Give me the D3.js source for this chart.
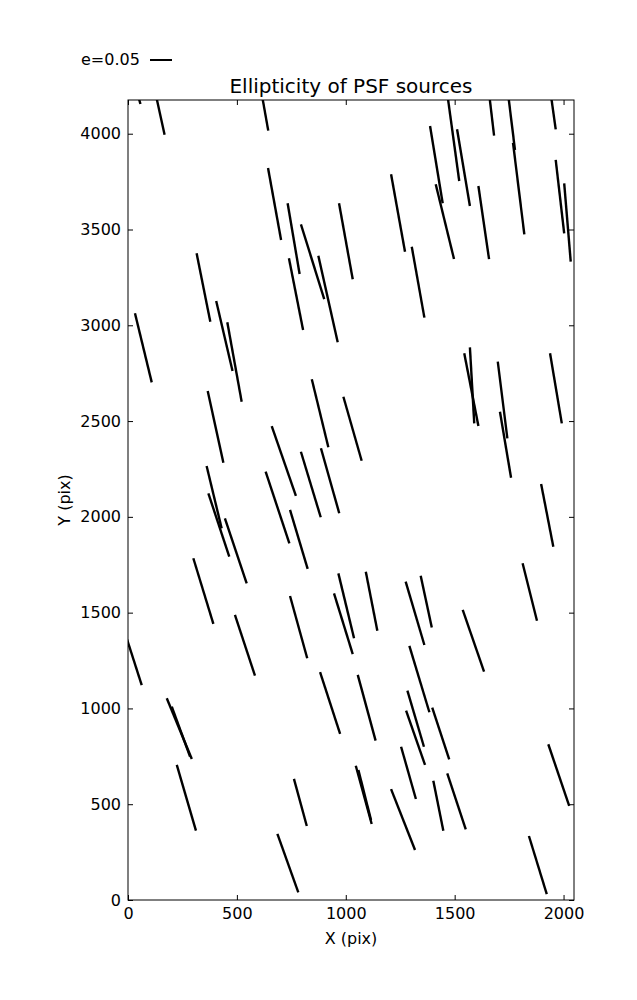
<!DOCTYPE html>
<html><head><meta charset="utf-8">
<script src="https://cdn.jsdelivr.net/npm/d3@7"></script>
<style>
body{margin:0;background:#fff;}
text{font-family:"DejaVu Sans",sans-serif;fill:#000;}
</style></head>
<body>
<svg id="chart" width="637" height="1000"></svg>
<script>
// Segment endpoints (data units: pixels on detector)
const X1 = [37,125,615,643,315,32,405,456,733,794,739,874,969,1208,1303,1465,1387,1413,1511,1659,1746,1768,1609,1940,1964,2003,1544,1570,1698,1708,1938,1897,1812,1344,1537,844,989,660,794,886,632,744,744,946,966,1092,1275,366,361,369,445,300,491,-14,178,201,224,686,882,1055,1292,1283,1277,1254,1208,1046,1058,762,1397,1402,1466,1930,1841];
const Y1 = [4239,4218,4202,3821,3376,3063,3127,3016,3637,3527,3350,3363,3637,3788,3410,4218,4040,3736,4023,4202,4202,3952,3727,4218,3863,3741,2854,2885,2810,2549,2854,2172,1758,1693,1514,2718,2627,2474,2340,2358,2236,2036,1587,1601,1705,1714,1662,2657,2265,2123,1992,1784,1488,1394,1053,1009,705,345,1189,1175,1327,1093,988,800,579,701,679,632,1004,623,661,813,334];
const X2 = [57,168,644,703,378,109,480,522,788,901,804,963,1032,1272,1361,1521,1445,1497,1570,1681,1777,1820,1658,1964,2003,2033,1609,1590,1742,1759,1992,1953,1878,1395,1635,920,1073,771,885,970,741,825,823,1032,1038,1145,1361,438,430,465,545,392,583,63,293,285,312,782,974,1137,1384,1359,1364,1322,1318,1119,1116,821,1475,1448,1551,2026,1923];
const Y2 = [4155,3995,4016,3445,3019,2702,2761,2601,3268,3137,2975,2911,3240,3384,3040,3753,3637,3346,3623,3990,3915,3475,3345,4023,3480,3332,2474,2488,2410,2204,2488,1844,1458,1423,1192,2363,2293,2109,1998,2019,1862,1728,1262,1284,1366,1406,1331,2283,1940,1792,1653,1441,1171,1122,736,748,362,40,867,832,980,800,705,527,261,397,418,386,734,362,369,491,31];
const xTicks = [0,500,1000,1500,2000];
const yTicks = [0,500,1000,1500,2000,2500,3000,3500,4000];
const xDomain = [0,2048];
const yDomain = [0,4176];
const titleText = "Ellipticity of PSF sources";
const xLabel = "X (pix)";
const yLabel = "Y (pix)";
const keyLabel = "e=0.05";

const svg = d3.select("#chart");
const m = {left:128, top:100, width:446, height:800};
const x = d3.scaleLinear().domain(xDomain).range([0, m.width]);
const y = d3.scaleLinear().domain(yDomain).range([m.height, 0]);

const g = svg.append("g").attr("transform",`translate(${m.left},${m.top})`);

g.append("clipPath").attr("id","clip").append("rect")
  .attr("width",m.width).attr("height",m.height);

const segs = X1.map((d,i)=>({x1:d,y1:Y1[i],x2:X2[i],y2:Y2[i]}));
g.append("g").attr("clip-path","url(#clip)")
  .selectAll("line").data(segs).join("line")
  .attr("x1",d=>x(d.x1)).attr("y1",d=>y(d.y1))
  .attr("x2",d=>x(d.x2)).attr("y2",d=>y(d.y2))
  .attr("stroke","#000").attr("stroke-width",2.4);

const tl = 5;
// axes
const axB = d3.axisBottom(x).tickValues(xTicks).tickSize(-tl).tickPadding(8).tickFormat(d3.format("d"));
const axT = d3.axisTop(x).tickValues(xTicks).tickSize(-tl).tickFormat("");
const axL = d3.axisLeft(y).tickValues(yTicks).tickSize(-tl).tickPadding(7).tickFormat(d3.format("d"));
const axR = d3.axisRight(y).tickValues(yTicks).tickSize(-tl).tickFormat("");
function style(sel){
  sel.select(".domain").remove();
  sel.selectAll(".tick line").attr("stroke","#000").attr("stroke-width",1);
  sel.selectAll(".tick text").style("font-size","16px").style("font-family","DejaVu Sans").attr("fill","#000");
}
g.append("g").attr("transform",`translate(0,${m.height})`).call(axB).call(style);
g.append("g").call(axT).call(style);
g.append("g").call(axL).call(style);
g.append("g").attr("transform",`translate(${m.width},0)`).call(axR).call(style);

g.append("rect").attr("width",m.width).attr("height",m.height)
  .attr("fill","none").attr("stroke","#000").attr("stroke-width",1);

// title & labels
svg.append("text").attr("x",m.left+m.width/2).attr("y",93)
  .attr("text-anchor","middle").style("font-size","20px").text(titleText);
svg.append("text").attr("x",m.left+m.width/2).attr("y",944)
  .attr("text-anchor","middle").style("font-size","16px").text(xLabel);
svg.append("text").attr("transform",`translate(69.5,${m.top+m.height/2}) rotate(-90)`)
  .attr("text-anchor","middle").style("font-size","16px").text(yLabel);

// key
svg.append("text").attr("x",81).attr("y",65).style("font-size","16px").text(keyLabel);
svg.append("line").attr("x1",150).attr("x2",172).attr("y1",60).attr("y2",60)
  .attr("stroke","#000").attr("stroke-width",2);
</script>
</body></html>
